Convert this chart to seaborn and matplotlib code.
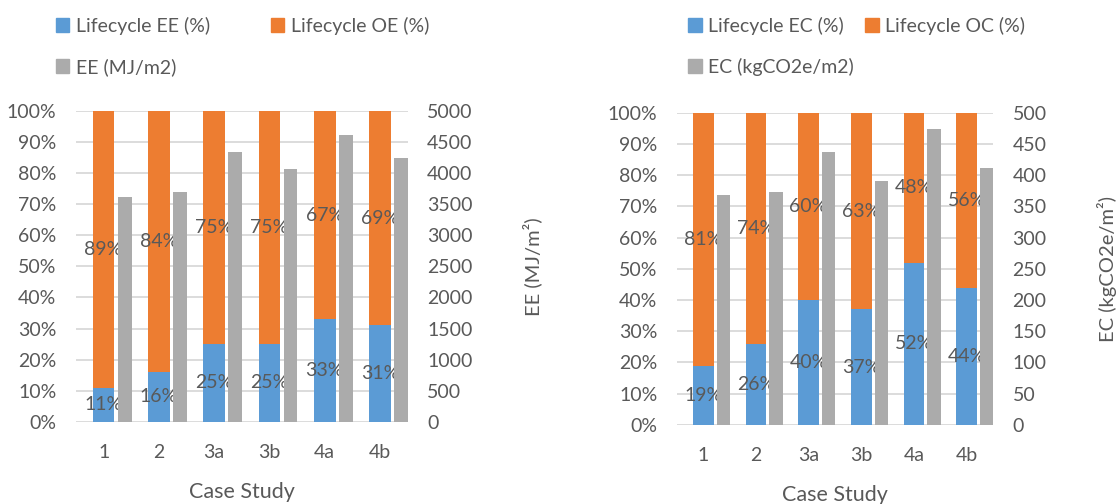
import numpy as np
import matplotlib
matplotlib.use('Agg')
import matplotlib.pyplot as plt
from matplotlib.patches import Patch
import seaborn as sns

# data
cases = ['1', '2', '3a', '3b', '4a', '4b']
ee_pct = [11, 16, 25, 25, 33, 31]
oe_pct = [89, 84, 75, 75, 67, 69]
ee_val = [3620, 3700, 4345, 4065, 4610, 4245]
ec_pct = [19, 26, 40, 37, 52, 44]
oc_pct = [81, 74, 60, 63, 48, 56]
ec_val = [369, 373, 437, 391, 474, 411]

BLUE = '#5B9BD5'
ORANGE = '#ED7D31'
GRAY = '#ABABAB'
TXT = '#595959'
GRID = '#D9D9D9'

sns.set_theme(style='white')
plt.rcParams['font.family'] = ['Lato', 'DejaVu Sans']
plt.rcParams['text.color'] = TXT
plt.rcParams['axes.labelcolor'] = TXT
plt.rcParams['xtick.color'] = TXT
plt.rcParams['ytick.color'] = TXT
FS = 14

fig = plt.figure(figsize=(11.17, 5.04), dpi=100)


def panel(rect, low, high, val, vmax, vstep, rlabel, names, leg_x, colsp, rpad):
    ax = fig.add_axes(rect)
    pos = np.arange(len(cases))
    total = np.array(low) + np.array(high)
    sns.barplot(x=pos, y=total, native_scale=True, color=ORANGE, width=0.39,
                saturation=1, ax=ax, zorder=2)
    sns.barplot(x=pos, y=low, native_scale=True, color=BLUE, width=0.39,
                saturation=1, ax=ax, zorder=3)
    for p in ax.patches:
        p.set_edgecolor('none')
    for i in range(len(cases)):
        ax.text(pos[i], low[i] / 2, f'{low[i]}%', ha='center', va='center',
                fontsize=FS, color=TXT, zorder=6)
        ax.text(pos[i], low[i] + high[i] / 2, f'{high[i]}%', ha='center',
                va='center', fontsize=FS, color=TXT, zorder=6)
    ax.set_ylim(0, 100)
    ax.set_yticks(range(0, 101, 10))
    ax.set_yticklabels([f'{t}%' for t in range(0, 101, 10)])
    ax.yaxis.grid(True, color=GRID, lw=1.3, zorder=0)
    ax.set_axisbelow(True)

    ax2 = ax.twinx()
    sns.barplot(x=pos + 0.38, y=val, native_scale=True, color=GRAY, width=0.25,
                saturation=1, ax=ax2)
    for p in ax2.patches:
        p.set_edgecolor('none')
    ax2.set_ylim(0, vmax)
    ax2.set_yticks(np.arange(0, vmax + 1, vstep))
    ax2.set_ylabel(rlabel, fontsize=FS + 0.5, labelpad=rpad)

    for a in (ax, ax2):
        for s in a.spines.values():
            s.set_visible(False)
        a.tick_params(axis='both', length=0, labelsize=FS, pad=14)
    ax.set_xlim(-0.5, len(cases) - 0.5)
    ax2.set_xlim(-0.5, len(cases) - 0.5)
    ax.set_xticks(pos)
    ax.set_xticklabels(cases)
    ax.tick_params(axis='x', pad=16)
    ax.set_xlabel('Case Study', fontsize=FS + 1.5, labelpad=15)
    ax.set_ylabel('')
    ax2.set_xlabel('')

    handles = [Patch(color=BLUE), Patch(color=GRAY), Patch(color=ORANGE)]
    labels = [names[0], names[2], names[1]]
    fig.legend(handles, labels, loc='upper left', bbox_to_anchor=(leg_x, 0.967),
               ncol=2, frameon=False, fontsize=FS, handlelength=0.7,
               handleheight=0.7, handletextpad=0.35, labelspacing=1.2,
               columnspacing=colsp, borderpad=0, borderaxespad=0)
    return ax, ax2


panel([0.068, 0.163, 0.297, 0.617], ee_pct, oe_pct, ee_val, 5000, 500,
      'EE (MJ/m²)', ['Lifecycle EE (%)', 'Lifecycle OE (%)', 'EE (MJ/m2)'],
      0.050, 3.1, 36)
panel([0.606, 0.157, 0.283, 0.619], ec_pct, oc_pct, ec_val, 500, 50,
      'EC (kgCO2e/m²)', ['Lifecycle EC (%)', 'Lifecycle OC (%)', 'EC (kgCO2e/m2)'],
      0.616, 0.55, 36)

fig.savefig('out.png', dpi=100)
